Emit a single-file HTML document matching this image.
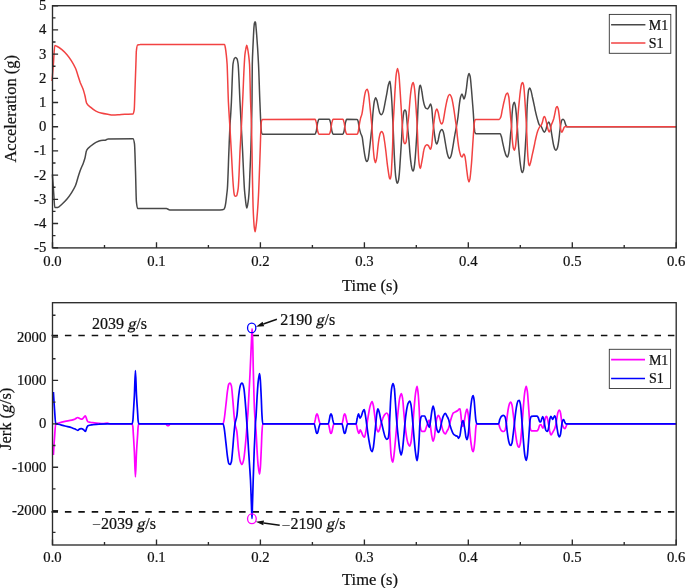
<!DOCTYPE html>
<html><head><meta charset="utf-8"><title>Acceleration and Jerk</title>
<style>html,body{margin:0;padding:0;background:#fff}svg{display:block}text{font-family:"Liberation Serif","Times New Roman",serif;fill:#111;stroke:#111;stroke-width:0.22px}.i{font-style:italic}</style></head><body>
<svg width="685" height="588" viewBox="0 0 685 588">
<rect width="685" height="588" fill="#fff"/>
<g>
<path d="M52.4,174.4C52.8,180.8 53.3,187.0 53.7,193.0C54.1,198.0 54.4,207.6 54.8,207.6C55.8,207.6 56.7,207.5 57.7,207.4C59.1,207.2 60.5,205.4 61.9,204.2C63.6,202.7 65.3,201.0 67.0,199.0C68.4,197.3 69.9,195.3 71.3,193.1C72.7,190.9 74.1,188.8 75.5,185.5C76.4,183.4 77.2,179.8 78.1,177.0C78.8,174.7 79.6,172.2 80.3,170.2C81.3,167.6 82.2,166.0 83.2,163.4C83.8,161.9 84.3,160.4 84.9,158.3C85.5,156.2 86.0,151.3 86.6,150.3C88.0,147.7 89.4,147.2 90.8,146.0C92.5,144.6 94.2,143.3 95.9,142.4C97.6,141.5 99.3,140.5 101.0,140.4C102.4,140.3 103.9,140.3 105.3,140.2C106.1,140.1 107.0,138.9 107.8,138.9C116.2,138.7 124.6,138.7 133.0,138.7C133.5,138.7 134.0,140.6 134.5,143.8C134.8,145.9 135.2,160.9 135.5,171.0C135.8,180.1 136.1,198.6 136.4,201.6C136.8,205.6 137.2,208.4 137.6,208.4C141.7,208.5 145.9,208.5 150.0,208.5C155.5,208.5 160.9,208.5 166.4,208.6C167.5,208.6 168.7,209.9 169.8,209.9L218.2,209.9C219.6,209.9 221.1,209.8 222.5,209.7C223.0,209.7 223.5,209.5 224.0,209.2C224.3,209.0 224.6,208.2 224.9,207.3C225.2,206.4 225.5,204.5 225.8,202.6C226.1,200.7 226.4,197.7 226.7,195.0C226.9,192.9 227.2,191.5 227.4,188.5C227.9,182.1 228.4,163.3 228.9,151.0C229.2,142.8 229.6,132.9 229.9,126.7C230.2,121.1 230.5,118.0 230.8,113.0C231.0,109.7 231.2,106.1 231.4,102.0C231.9,91.2 232.5,67.8 233.0,64.0C233.4,61.2 233.8,59.4 234.2,58.8C234.7,58.1 235.1,57.6 235.6,57.6C236.1,57.6 236.5,58.1 237.0,58.8C237.4,59.3 237.7,61.3 238.1,64.0C238.7,68.6 239.4,89.7 240.0,102.0C240.4,110.4 240.9,118.5 241.3,126.7C241.7,134.9 242.2,142.2 242.6,151.0C243.0,158.5 243.3,168.2 243.7,175.5C244.0,180.8 244.2,186.5 244.5,190.0C244.8,193.9 245.1,196.2 245.4,199.0C245.6,201.1 245.9,203.7 246.1,205.0C246.3,206.4 246.6,208.0 246.8,208.0C247.1,208.0 247.3,206.2 247.6,205.0C247.9,203.5 248.2,201.7 248.5,199.0C248.7,196.9 249.0,193.9 249.2,190.0C249.4,186.6 249.6,180.4 249.8,175.5C250.1,167.4 250.5,160.7 250.8,151.0C251.0,144.2 251.3,136.3 251.5,126.7C251.7,119.8 251.8,113.6 252.0,102.0C252.1,93.9 252.2,69.6 252.3,64.0C252.5,55.2 252.7,52.5 252.9,48.0C253.1,43.1 253.3,39.1 253.5,35.3C253.7,32.2 253.8,28.6 254.0,26.8C254.2,25.0 254.3,23.3 254.5,22.8C254.7,22.2 254.9,21.7 255.1,21.7C255.2,21.7 255.4,22.2 255.6,22.8C255.7,23.3 255.9,25.4 256.0,26.8C256.2,29.3 256.5,32.3 256.7,35.3C257.0,39.2 257.3,43.3 257.6,48.0C257.9,52.7 258.2,57.7 258.5,64.0C259.0,73.9 259.4,90.6 259.9,102.0C260.3,111.0 260.6,121.3 261.0,126.7C261.2,129.2 261.3,131.9 261.5,132.5C261.8,133.5 262.0,134.2 262.3,134.2L315.1,134.2C315.5,134.2 315.8,132.8 316.2,131.5C316.5,130.5 316.7,128.3 317.0,126.7C317.3,125.1 317.5,122.9 317.8,122.0C318.2,120.7 318.5,119.3 318.9,119.3L329.3,119.3C329.7,119.3 330.0,120.7 330.4,122.0C330.7,122.9 330.9,125.1 331.2,126.7C331.5,128.3 331.7,130.6 332.0,131.5C332.4,132.8 332.7,134.2 333.1,134.2L342.9,134.2C343.3,134.2 343.6,132.8 344.0,131.5C344.3,130.6 344.5,128.3 344.8,126.7C345.1,125.1 345.3,122.9 345.6,122.0C346.0,120.7 346.3,119.3 346.7,119.3C350.2,119.3 353.8,119.3 357.3,119.4C357.6,119.4 358.0,120.7 358.3,122.0C358.5,122.9 358.8,125.5 359.0,126.7C359.5,129.5 360.1,131.5 360.6,133.1C361.1,134.7 361.7,135.1 362.2,137.1C362.6,138.5 362.9,142.4 363.3,145.0C363.7,148.1 364.2,151.8 364.6,154.2C365.0,156.6 365.5,159.2 365.9,160.1C366.2,160.8 366.6,161.5 366.9,161.5C367.3,161.5 367.7,160.5 368.1,159.4C368.5,158.2 369.0,153.6 369.4,150.2C369.8,146.8 370.3,142.5 370.7,138.4C371.1,134.6 371.5,131.1 371.9,126.7C372.3,122.3 372.7,115.5 373.1,111.5C373.5,107.2 374.0,102.7 374.4,101.0C374.8,99.3 375.3,97.7 375.7,97.7C376.2,97.7 376.6,99.5 377.1,101.0C377.5,102.4 378.0,105.7 378.4,107.6C378.8,109.5 379.3,112.0 379.7,112.8C380.2,113.8 380.8,114.8 381.3,114.8C381.9,114.8 382.4,113.5 383.0,112.2C383.6,110.8 384.3,106.7 384.9,103.6C385.6,100.4 386.2,96.7 386.9,93.1C387.5,90.1 388.0,85.5 388.6,83.9C389.0,82.7 389.5,81.3 389.9,81.3C390.2,81.3 390.5,85.1 390.8,87.9C391.1,91.0 391.5,95.7 391.8,101.0C392.1,105.2 392.3,111.5 392.6,116.8C392.8,120.1 392.9,123.1 393.1,126.7C393.4,132.5 393.6,140.3 393.9,146.3C394.2,153.0 394.5,159.9 394.8,164.7C395.1,169.5 395.4,174.2 395.7,176.5C396.1,179.3 396.4,181.7 396.8,182.4C397.0,182.9 397.3,183.3 397.5,183.3C397.8,183.3 398.2,181.9 398.5,180.4C398.8,179.1 399.1,175.9 399.4,172.6C399.7,169.3 400.0,163.9 400.3,159.4C400.7,153.9 401.0,148.3 401.4,142.3C401.7,137.4 402.0,130.8 402.3,126.7C402.6,122.1 403.0,117.9 403.3,115.4C403.6,113.4 403.8,111.3 404.1,110.8C404.4,110.3 404.7,109.9 405.0,109.9C405.3,109.9 405.7,110.5 406.0,111.5C406.2,112.2 406.5,115.8 406.7,118.1C407.0,120.8 407.2,124.0 407.5,126.7C408.0,131.4 408.4,134.6 408.9,139.7C409.2,143.4 409.6,149.3 409.9,152.9C410.3,157.6 410.8,162.0 411.2,164.7C411.6,167.0 411.9,169.2 412.3,169.9C412.6,170.5 412.9,171.0 413.2,171.0C413.5,171.0 413.9,169.1 414.2,167.3C414.5,165.5 414.9,161.8 415.2,158.1C415.5,154.4 415.9,148.9 416.2,143.7C416.5,138.5 416.9,133.4 417.2,126.7C417.5,121.4 417.7,113.1 418.0,107.6C418.3,102.1 418.5,95.9 418.8,93.1C419.1,89.6 419.5,86.5 419.8,85.9C420.0,85.5 420.2,85.2 420.4,85.2C420.8,85.2 421.3,88.3 421.7,90.5C422.2,92.8 422.6,97.3 423.1,99.7C423.6,102.1 424.0,104.3 424.5,105.6C424.9,106.8 425.4,107.9 425.8,108.2C426.4,108.6 426.9,108.9 427.5,108.9C428.0,108.9 428.6,107.7 429.1,106.9C429.6,106.1 430.1,103.9 430.6,103.9C431.0,103.9 431.3,105.6 431.7,107.6C432.0,109.2 432.3,114.9 432.6,118.1C432.9,121.3 433.2,124.1 433.5,126.7C433.9,130.1 434.3,133.1 434.7,135.8C435.1,138.2 435.4,141.4 435.8,142.3C436.2,143.2 436.5,144.0 436.9,144.0C437.4,144.0 437.8,141.5 438.3,139.7C438.7,138.0 439.2,134.4 439.6,133.1C440.0,131.8 440.5,130.7 440.9,130.2C441.2,129.9 441.6,129.5 441.9,129.5C442.3,129.5 442.7,130.3 443.1,131.2C443.5,132.1 444.0,134.8 444.4,137.1C444.8,139.4 445.3,142.6 445.7,145.0C446.3,148.3 446.9,152.1 447.5,154.2C447.9,155.7 448.4,157.3 448.8,157.8C449.1,158.2 449.4,158.5 449.7,158.5C450.1,158.5 450.6,157.2 451.0,156.1C451.4,155.0 451.9,152.5 452.3,150.2C452.7,147.9 453.2,144.9 453.6,142.3C454.0,139.7 454.5,136.9 454.9,134.5C455.4,131.7 455.9,129.5 456.4,126.7C456.9,123.7 457.5,120.8 458.0,116.8C458.4,113.6 458.9,108.1 459.3,104.9C459.7,101.7 460.2,98.4 460.6,97.0C461.0,95.6 461.5,94.0 461.9,94.0C462.3,94.0 462.6,95.5 463.0,96.4C463.3,97.1 463.6,99.0 463.9,99.0C464.3,99.0 464.8,97.2 465.2,95.7C465.6,94.2 466.1,90.9 466.5,87.9C466.9,84.9 467.4,79.2 467.8,77.3C468.2,75.4 468.7,73.4 469.1,73.4C469.5,73.4 469.8,75.0 470.2,76.7C470.5,78.2 470.9,82.9 471.2,86.5C471.6,90.4 471.9,95.1 472.3,99.7C472.6,103.9 473.0,108.1 473.3,112.8C473.6,117.1 473.9,123.4 474.2,126.7C474.4,128.9 474.6,131.4 474.8,132.0C475.2,133.1 475.5,133.8 475.9,133.8L500.2,133.8C500.6,133.8 501.1,135.7 501.5,137.1C502.0,138.6 502.4,141.6 502.9,143.7C503.4,146.0 503.9,148.4 504.4,150.2C505.0,152.3 505.5,154.6 506.1,155.5C506.6,156.3 507.0,157.1 507.5,157.1C507.9,157.1 508.4,155.0 508.8,152.9C509.1,151.3 509.5,147.2 509.8,143.7C510.1,140.6 510.4,135.9 510.7,133.1C511.0,130.6 511.2,130.0 511.5,126.7C511.7,124.7 511.8,117.8 512.0,115.4C512.4,110.2 512.7,106.2 513.1,104.9C513.5,103.5 513.9,102.3 514.3,102.3C514.6,102.3 515.0,104.0 515.3,105.6C515.6,107.2 516.0,110.7 516.3,114.1C516.6,117.5 517.0,121.9 517.3,126.7C517.6,130.5 517.8,136.0 518.1,139.7C518.5,145.3 518.9,150.0 519.3,154.2C519.7,158.7 520.2,163.2 520.6,166.0C520.9,168.2 521.3,170.3 521.6,171.2C521.9,171.9 522.1,172.6 522.4,172.6C522.8,172.6 523.1,171.4 523.5,169.9C523.8,168.6 524.2,163.6 524.5,159.4C524.8,155.2 525.2,149.1 525.5,143.7C525.8,138.3 526.2,134.5 526.5,126.7C526.7,122.8 526.8,114.0 527.0,110.2C527.3,104.2 527.5,99.9 527.8,97.0C528.1,93.7 528.4,90.6 528.7,89.8C529.1,88.8 529.4,88.1 529.8,88.1C530.2,88.1 530.7,89.8 531.1,91.1C531.5,92.4 532.0,95.0 532.4,97.0C533.1,100.0 533.7,102.9 534.4,106.2C534.7,107.5 534.9,109.1 535.2,110.3C536.1,114.2 536.9,117.7 537.8,120.5C538.3,122.1 538.8,124.1 539.3,124.8C540.0,125.7 540.6,125.7 541.3,126.6C541.8,127.3 542.4,129.3 542.9,130.2C543.4,131.0 543.9,132.2 544.4,132.2C544.9,132.2 545.4,130.9 545.9,129.7C546.4,128.5 546.9,125.2 547.4,124.1C547.9,123.1 548.3,122.0 548.8,122.0C549.2,122.0 549.6,123.4 550.0,124.6C550.3,125.6 550.7,127.8 551.0,129.7C551.4,132.1 551.9,135.4 552.3,137.9C552.8,140.8 553.3,144.2 553.8,146.0C554.2,147.6 554.7,149.1 555.1,149.6C555.4,150.0 555.8,150.3 556.1,150.3C556.5,150.3 557.0,149.2 557.4,148.1C557.8,147.0 558.3,143.8 558.7,140.9C559.1,138.2 559.5,133.8 559.9,130.7C560.2,128.1 560.6,125.2 560.9,123.6C561.2,122.0 561.6,120.4 561.9,120.0C562.3,119.6 562.6,119.2 563.0,119.2C563.4,119.2 563.9,119.8 564.3,120.5C564.6,121.0 565.0,122.7 565.3,123.6C565.6,124.5 566.0,125.8 566.3,126.1C566.7,126.5 567.1,126.8 567.5,126.8L676.2,126.8" fill="none" stroke="#484848" stroke-width="1.5" stroke-linejoin="round"/>
<path d="M52.0,81.0C52.5,75.6 52.9,69.9 53.4,64.0C53.9,58.1 54.3,45.6 54.8,45.6C55.5,45.6 56.1,45.9 56.8,46.2C58.5,46.9 60.2,48.2 61.9,49.6C63.6,51.0 65.3,52.7 67.0,54.7C68.4,56.4 69.9,58.3 71.3,60.6C72.7,62.8 74.1,65.1 75.5,68.3C76.4,70.3 77.2,73.3 78.1,75.9C78.8,78.1 79.6,80.7 80.3,82.7C81.3,85.3 82.2,86.7 83.2,89.5C83.8,91.1 84.3,93.3 84.9,95.5C85.5,97.7 86.0,102.1 86.6,103.1C88.0,105.7 89.4,106.2 90.8,107.4C92.5,108.9 94.2,110.3 95.9,111.1C97.6,111.9 99.3,112.6 101.0,113.0C103.3,113.6 105.5,113.9 107.8,114.2C109.5,114.5 111.2,114.9 112.9,114.9C114.6,114.9 116.3,114.8 118.0,114.7C120.3,114.6 122.5,114.3 124.8,114.2C127.5,114.1 130.3,114.2 133.0,114.0C133.4,114.0 133.8,112.4 134.2,109.9C134.5,108.2 134.7,96.7 135.0,89.5C135.3,81.5 135.6,72.3 135.9,64.0C136.1,59.4 136.2,51.8 136.4,50.4C136.8,47.0 137.2,45.1 137.6,45.0C138.4,44.7 139.3,44.6 140.1,44.6C143.4,44.5 146.7,44.4 150.0,44.4L224.6,44.4C224.9,44.4 225.1,46.5 225.4,48.0C225.7,49.7 226.0,52.1 226.3,54.9C226.6,57.4 226.8,59.8 227.1,64.0C227.5,70.9 228.0,92.8 228.4,102.0C228.9,112.6 229.4,118.2 229.9,126.7C230.4,134.6 230.8,142.6 231.3,151.0C231.7,158.8 232.2,168.5 232.6,175.5C232.9,180.3 233.2,185.0 233.5,188.3C233.7,190.2 233.8,192.0 234.0,193.0C234.2,194.2 234.4,195.5 234.6,195.7C234.9,196.0 235.3,196.2 235.6,196.2C236.0,196.2 236.3,196.0 236.7,195.7C236.9,195.5 237.2,194.1 237.4,193.0C237.7,191.8 237.9,190.6 238.2,188.3C238.5,186.0 238.7,180.6 239.0,175.5C239.3,169.1 239.7,157.8 240.0,151.0C240.5,141.4 240.9,135.5 241.4,126.7C241.8,119.2 242.2,110.6 242.6,102.0C243.2,89.9 243.7,73.9 244.3,64.0C244.5,60.5 244.7,56.8 244.9,54.9C245.2,52.4 245.4,51.1 245.7,49.7C246.0,47.9 246.4,45.3 246.7,45.3C247.1,45.3 247.4,47.9 247.8,49.7C248.1,51.0 248.3,52.8 248.6,54.9C248.9,57.3 249.2,59.4 249.5,64.0C249.9,69.6 250.2,90.8 250.6,102.0C250.9,111.1 251.2,116.1 251.5,126.7C251.7,132.6 251.8,141.0 252.0,150.0C252.1,157.2 252.3,168.1 252.4,175.5C252.5,182.9 252.7,189.2 252.8,195.0C252.9,199.4 253.0,204.1 253.1,207.0C253.3,212.8 253.5,216.5 253.7,219.8C253.9,222.6 254.0,225.2 254.2,226.6C254.5,229.0 254.8,231.7 255.1,231.7C255.4,231.7 255.7,228.7 256.0,226.6C256.3,224.8 256.5,222.5 256.8,219.8C257.1,216.4 257.5,211.9 257.8,207.0C258.0,203.6 258.3,199.7 258.5,195.0C258.8,189.7 259.0,182.5 259.3,175.5C259.6,167.6 259.9,158.6 260.2,150.0C260.5,142.3 260.7,130.9 261.0,126.7C261.2,124.1 261.3,121.6 261.5,121.0C261.8,120.0 262.0,119.4 262.3,119.4C279.9,119.3 297.5,119.3 315.1,119.3C315.5,119.3 315.8,120.7 316.2,122.0C316.5,122.9 316.7,125.1 317.0,126.7C317.3,128.3 317.5,130.5 317.8,131.5C318.2,132.8 318.5,134.2 318.9,134.2L329.3,134.2C329.7,134.2 330.0,132.8 330.4,131.5C330.7,130.5 330.9,128.3 331.2,126.7C331.5,125.1 331.7,122.9 332.0,122.0C332.4,120.7 332.7,119.3 333.1,119.3L342.9,119.3C343.3,119.3 343.6,120.7 344.0,122.0C344.3,122.9 344.5,125.1 344.8,126.7C345.1,128.3 345.3,130.5 345.6,131.5C346.0,132.8 346.3,134.2 346.7,134.2L357.3,134.2C357.6,134.2 358.0,132.8 358.3,131.5C358.5,130.6 358.8,128.1 359.0,126.7C359.5,123.4 360.1,120.2 360.6,118.1C361.0,116.4 361.5,115.9 361.9,114.1C362.4,112.2 362.8,108.1 363.3,104.9C363.7,101.9 364.2,97.9 364.6,95.7C365.0,93.5 365.5,91.2 365.9,90.5C366.3,89.8 366.8,89.2 367.2,89.2C367.6,89.2 368.1,91.1 368.5,93.1C368.9,95.1 369.4,100.7 369.8,104.9C370.2,109.1 370.7,113.6 371.1,118.1C371.4,120.9 371.6,123.2 371.9,126.7C372.2,130.2 372.4,135.6 372.7,139.7C373.0,143.8 373.2,148.6 373.5,151.5C373.8,154.8 374.1,158.0 374.4,159.4C374.8,161.1 375.1,162.7 375.5,162.7C375.9,162.7 376.3,160.2 376.7,158.1C377.1,155.8 377.6,149.7 378.0,146.3C378.4,142.9 378.9,139.1 379.3,137.1C379.7,135.1 380.2,133.0 380.6,132.5C381.0,132.0 381.5,131.6 381.9,131.6C382.3,131.6 382.8,132.7 383.2,133.8C383.6,134.9 384.1,138.2 384.5,141.0C385.0,144.0 385.4,147.6 385.9,151.5C386.3,155.1 386.8,159.9 387.2,163.4C387.6,166.9 388.1,169.9 388.5,172.6C388.8,174.5 389.1,177.0 389.4,177.8C389.7,178.5 389.9,179.1 390.2,179.1C390.5,179.1 390.8,177.3 391.1,175.2C391.4,173.3 391.6,167.1 391.9,162.0C392.1,157.5 392.4,153.1 392.6,146.3C392.8,141.5 392.9,131.2 393.1,126.7C393.4,117.8 393.8,113.8 394.1,107.6C394.5,100.8 394.8,93.5 395.2,87.9C395.5,82.8 395.9,77.1 396.2,74.7C396.6,71.6 397.1,68.4 397.5,68.4C398.0,68.4 398.4,71.5 398.9,74.7C399.2,77.0 399.6,83.2 399.9,87.9C400.3,93.1 400.6,99.2 401.0,104.9C401.3,110.1 401.7,115.6 402.0,120.7C402.1,122.7 402.3,124.8 402.4,126.7C402.7,130.9 403.0,136.2 403.3,138.4C403.6,140.6 403.9,142.6 404.2,143.0C404.5,143.4 404.7,143.7 405.0,143.7C405.3,143.7 405.7,143.1 406.0,142.3C406.3,141.6 406.6,138.6 406.9,135.8C407.1,133.6 407.4,129.3 407.6,126.7C408.0,121.8 408.5,119.0 408.9,114.1C409.2,110.4 409.6,104.6 409.9,101.0C410.3,96.3 410.8,91.9 411.2,89.2C411.6,86.9 411.9,84.7 412.3,83.9C412.6,83.2 412.9,82.6 413.2,82.6C413.5,82.6 413.9,84.7 414.2,86.5C414.5,88.3 414.9,91.9 415.2,95.7C415.5,99.5 415.9,105.1 416.2,110.2C416.5,115.3 416.9,120.1 417.2,126.7C417.5,132.0 417.7,140.8 418.0,146.3C418.3,151.8 418.5,158.1 418.8,160.7C419.1,164.0 419.5,166.4 419.8,167.3C420.0,167.8 420.2,168.4 420.4,168.4C420.8,168.4 421.1,165.2 421.5,163.4C421.9,161.4 422.3,159.1 422.7,156.8C423.1,154.7 423.4,151.7 423.8,150.2C424.2,148.5 424.7,146.9 425.1,146.3C425.7,145.5 426.2,144.7 426.8,144.7C427.3,144.7 427.9,145.1 428.4,145.6C428.8,146.0 429.3,147.7 429.7,148.3C430.0,148.7 430.3,149.2 430.6,149.2C431.0,149.2 431.3,147.1 431.7,145.0C432.0,143.3 432.3,138.8 432.6,135.8C432.9,132.8 433.2,129.4 433.5,126.7C433.9,123.0 434.3,119.4 434.7,116.8C435.1,114.4 435.4,111.8 435.8,110.8C436.2,109.8 436.5,108.9 436.9,108.9C437.4,108.9 437.8,111.1 438.3,112.8C438.7,114.4 439.2,117.8 439.6,119.4C440.0,121.0 440.5,122.8 440.9,123.3C441.2,123.7 441.5,124.0 441.8,124.0C442.2,124.0 442.5,123.0 442.9,122.0C443.3,120.9 443.8,117.8 444.2,115.4C444.6,113.0 445.1,109.9 445.5,107.6C446.2,104.1 446.8,100.5 447.5,98.4C447.9,97.0 448.4,95.6 448.8,95.1C449.1,94.7 449.5,94.4 449.8,94.4C450.3,94.4 450.9,95.7 451.4,97.0C451.8,98.0 452.3,100.2 452.7,102.3C453.1,104.4 453.6,107.4 454.0,110.2C454.4,113.0 454.9,116.4 455.3,119.4C455.7,121.9 456.0,123.7 456.4,126.7C456.7,129.1 457.0,133.1 457.3,135.8C457.7,139.7 458.2,143.6 458.6,146.3C459.0,149.0 459.5,151.3 459.9,152.9C460.3,154.5 460.8,156.1 461.2,156.5C461.5,156.8 461.9,157.1 462.2,157.1C462.5,157.1 462.9,155.3 463.2,154.8C463.5,154.4 463.7,153.9 464.0,153.9C464.3,153.9 464.6,155.0 464.9,156.1C465.2,157.2 465.5,159.8 465.8,162.0C466.2,164.7 466.5,168.3 466.9,171.2C467.2,173.8 467.6,177.0 467.9,178.5C468.3,180.1 468.6,182.0 469.0,182.0C469.3,182.0 469.6,180.5 469.9,179.1C470.2,177.7 470.5,174.2 470.8,171.2C471.1,167.9 471.5,163.9 471.8,159.4C472.1,154.9 472.5,148.8 472.8,143.7C473.1,139.2 473.4,134.6 473.7,130.5C473.9,128.2 474.0,125.4 474.2,124.0C474.4,122.4 474.6,121.0 474.8,120.5C475.1,119.9 475.3,119.4 475.6,119.4L499.2,119.4C499.8,119.4 500.3,118.2 500.9,116.8C501.3,115.8 501.8,112.3 502.2,110.2C502.9,107.0 503.5,103.6 504.2,101.0C504.8,98.5 505.5,95.3 506.1,94.4C506.6,93.7 507.0,93.1 507.5,93.1C507.9,93.1 508.4,94.9 508.8,97.0C509.1,98.6 509.5,103.9 509.8,107.6C510.1,110.9 510.4,114.7 510.7,118.1C511.0,121.1 511.2,123.2 511.5,126.7C511.8,130.2 512.0,136.8 512.3,139.7C512.7,143.6 513.0,147.2 513.4,148.3C513.7,149.3 514.1,150.2 514.4,150.2C514.8,150.2 515.1,148.3 515.5,146.3C515.8,144.7 516.1,140.4 516.4,137.1C516.7,133.8 517.0,130.7 517.3,126.7C517.6,123.1 517.8,117.6 518.1,114.1C518.5,108.9 518.9,105.0 519.3,101.0C519.7,96.7 520.2,92.1 520.6,89.2C520.9,87.0 521.3,84.6 521.6,83.9C521.9,83.2 522.3,82.6 522.6,82.6C522.9,82.6 523.3,83.8 523.6,85.2C523.9,86.5 524.2,90.7 524.5,94.4C524.8,98.5 525.2,104.8 525.5,110.2C525.8,115.6 526.2,120.1 526.5,126.7C526.7,131.3 527.0,138.8 527.2,143.7C527.4,148.6 527.7,153.9 527.9,156.8C528.2,160.1 528.4,163.1 528.7,164.0C529.0,164.9 529.2,165.7 529.5,165.7C529.9,165.7 530.3,163.5 530.7,162.0C531.3,159.9 531.8,156.8 532.4,154.2C533.1,151.1 533.7,148.3 534.4,145.0C534.7,143.7 534.9,142.1 535.2,140.9C536.1,137.0 536.9,133.0 537.8,130.7C538.5,128.9 539.1,127.5 539.8,126.6C540.3,125.9 540.8,125.8 541.3,125.1C541.7,124.5 542.2,122.9 542.6,121.5C542.9,120.4 543.3,117.8 543.6,117.4C543.9,117.0 544.3,116.6 544.6,116.6C544.9,116.6 545.3,118.0 545.6,119.0C546.0,120.3 546.5,122.8 546.9,124.6C547.4,126.5 547.8,129.1 548.3,130.2C548.6,131.0 549.0,131.9 549.3,131.9C549.6,131.9 550.0,130.7 550.3,129.7C550.6,128.7 551.0,126.2 551.3,125.1C551.7,123.7 552.2,123.1 552.6,122.0C553.0,120.9 553.4,119.9 553.8,118.5C554.2,116.9 554.7,114.3 555.1,112.3C555.4,110.8 555.8,108.5 556.1,107.8C556.4,107.1 556.8,106.4 557.1,106.4C557.5,106.4 557.8,107.6 558.2,108.8C558.5,109.9 558.9,112.8 559.2,115.4C559.5,118.0 559.9,121.8 560.2,124.6C560.5,126.8 560.7,130.0 561.0,130.7C561.3,131.5 561.6,132.2 561.9,132.2C562.3,132.2 562.6,131.0 563.0,130.2C563.4,129.3 563.9,127.4 564.3,127.1C564.8,126.8 565.3,126.6 565.8,126.6C566.4,126.6 566.9,126.8 567.5,126.8L676.2,126.8" fill="none" stroke="#f24242" stroke-width="1.5" stroke-linejoin="round"/>
<rect x="52.5" y="5.7" width="623.7" height="242.2" fill="none" stroke="#2b2b2b" stroke-width="1.35"/>
<path d="M52.5,247.9v-5.6M156.5,247.9v-5.6M260.4,247.9v-5.6M364.4,247.9v-5.6M468.3,247.9v-5.6M572.3,247.9v-5.6M676.2,247.9v-5.6M104.5,247.9v-3M208.4,247.9v-3M312.4,247.9v-3M416.3,247.9v-3M520.3,247.9v-3M624.2,247.9v-3M52.5,247.7h5.6M52.5,223.5h5.6M52.5,199.3h5.6M52.5,175.1h5.6M52.5,150.9h5.6M52.5,126.7h5.6M52.5,102.5h5.6M52.5,78.3h5.6M52.5,54.1h5.6M52.5,29.9h5.6M52.5,5.7h5.6M52.5,235.6h3M52.5,211.4h3M52.5,187.2h3M52.5,163.0h3M52.5,138.8h3M52.5,114.6h3M52.5,90.4h3M52.5,66.2h3M52.5,42.0h3M52.5,17.8h3" fill="none" stroke="#2b2b2b" stroke-width="1.35"/>
<text x="52.5" y="265.5" font-size="14.7" text-anchor="middle">0.0</text>
<text x="156.5" y="265.5" font-size="14.7" text-anchor="middle">0.1</text>
<text x="260.4" y="265.5" font-size="14.7" text-anchor="middle">0.2</text>
<text x="364.4" y="265.5" font-size="14.7" text-anchor="middle">0.3</text>
<text x="468.3" y="265.5" font-size="14.7" text-anchor="middle">0.4</text>
<text x="572.3" y="265.5" font-size="14.7" text-anchor="middle">0.5</text>
<text x="676.2" y="265.5" font-size="14.7" text-anchor="middle">0.6</text>
<text x="46.3" y="252.2" font-size="14.7" text-anchor="end">-5</text>
<text x="46.3" y="228.0" font-size="14.7" text-anchor="end">-4</text>
<text x="46.3" y="203.8" font-size="14.7" text-anchor="end">-3</text>
<text x="46.3" y="179.6" font-size="14.7" text-anchor="end">-2</text>
<text x="46.3" y="155.4" font-size="14.7" text-anchor="end">-1</text>
<text x="46.3" y="131.2" font-size="14.7" text-anchor="end">0</text>
<text x="46.3" y="107.0" font-size="14.7" text-anchor="end">1</text>
<text x="46.3" y="82.8" font-size="14.7" text-anchor="end">2</text>
<text x="46.3" y="58.6" font-size="14.7" text-anchor="end">3</text>
<text x="46.3" y="34.4" font-size="14.7" text-anchor="end">4</text>
<text x="46.3" y="10.2" font-size="14.7" text-anchor="end">5</text>
<text transform="translate(16,162.6) rotate(-90)" font-size="16.5">Acceleration (g)</text>
<text x="342.1" y="291.4" font-size="16.5">Time (s)</text>
<rect x="609.3" y="14.4" width="61.5" height="38.9" fill="#fff" stroke="#333" stroke-width="0.9"/>
<path d="M611.1,24.8H645.4" stroke="#484848" stroke-width="1.5"/>
<path d="M611.1,43.1H645.4" stroke="#f24242" stroke-width="1.5"/>
<text x="648.7" y="29.6" font-size="14">M1</text>
<text x="648.7" y="47.9" font-size="14">S1</text>
</g>
<g>
<path d="M51.5,335.5H676.2" stroke="#111" stroke-width="1.7" stroke-dasharray="6.5 6.9" fill="none"/>
<path d="M51.5,511.8H676.2" stroke="#111" stroke-width="1.7" stroke-dasharray="6.5 6.9" fill="none"/>
<path d="M53.4,455.0C53.8,448.7 54.1,442.9 54.5,438.0C54.9,432.7 55.3,424.3 55.7,424.0C56.5,423.4 57.4,423.4 58.2,423.2C60.5,422.5 62.7,421.9 65.0,421.4C67.3,420.9 69.5,420.7 71.8,420.1C72.9,419.8 74.1,419.4 75.2,418.9C76.1,418.5 76.9,417.5 77.8,417.5C78.4,417.5 78.9,418.2 79.5,418.4C80.3,418.7 81.2,419.2 82.0,419.2C82.7,419.2 83.3,417.9 84.0,417.2C84.5,416.7 84.9,415.8 85.4,415.8C85.9,415.8 86.3,418.6 86.8,419.6C87.2,420.5 87.6,421.6 88.0,421.8C89.4,422.4 90.8,422.4 92.2,422.6C94.5,422.9 96.7,423.2 99.0,423.3C100.3,423.4 101.7,423.5 103.0,423.5C104.5,423.5 106.0,423.1 107.5,423.1C108.3,423.1 109.2,423.8 110.0,423.8L132.1,423.8C132.4,423.8 132.6,425.2 132.9,427.1C133.0,428.0 133.2,431.4 133.3,433.6C133.7,439.7 134.0,444.8 134.4,452.2C134.7,458.9 135.1,476.8 135.4,476.8C135.8,476.8 136.1,458.9 136.5,452.2C136.9,444.9 137.3,440.0 137.7,433.6C137.8,431.5 138.0,428.1 138.1,427.1C138.3,425.3 138.6,423.8 138.8,423.8L165.8,423.8C166.2,423.8 166.6,425.0 167.0,425.2C167.3,425.4 167.7,425.6 168.0,425.6C168.3,425.6 168.7,425.4 169.0,425.2C169.4,425.0 169.8,423.8 170.2,423.8L219.5,423.8L223.1,423.8C223.4,423.8 223.8,421.6 224.1,419.9C224.7,416.8 225.3,410.1 225.9,405.0C226.5,400.2 227.0,393.7 227.6,390.1C228.0,387.6 228.4,384.6 228.8,384.1C229.2,383.5 229.7,383.1 230.1,383.1C230.5,383.1 231.0,384.4 231.4,385.9C231.8,387.4 232.3,393.9 232.7,398.6C233.2,403.6 233.6,410.8 234.1,415.6C234.4,418.7 234.7,422.0 235.0,423.8C235.6,427.7 236.3,428.0 236.9,432.0C237.4,435.2 237.9,444.7 238.4,449.0C239.0,453.9 239.5,458.9 240.1,460.7C240.7,462.7 241.4,464.5 242.0,464.5C242.6,464.5 243.1,462.1 243.7,459.6C244.1,457.7 244.6,453.1 245.0,449.0C245.5,444.3 246.0,438.3 246.5,432.0C246.7,429.5 246.9,426.5 247.1,423.8C247.4,419.2 247.8,415.3 248.1,410.1C248.7,400.2 249.4,387.1 250.0,374.0C250.5,363.0 251.1,348.6 251.6,338.0C251.8,334.7 251.9,328.8 252.1,328.8C252.3,328.8 252.4,333.8 252.6,338.0C252.9,344.7 253.1,363.8 253.4,374.0C253.8,388.0 254.1,402.6 254.5,410.1C254.8,416.3 255.1,419.8 255.4,423.8C255.6,426.9 255.9,428.7 256.1,432.0C256.4,436.8 256.8,445.8 257.1,451.1C257.5,456.9 257.8,462.8 258.2,466.0C258.6,469.7 259.1,474.1 259.5,474.1C259.8,474.1 260.0,470.9 260.3,468.1C260.6,464.9 260.9,457.4 261.2,451.1C261.5,445.5 261.7,436.2 262.0,432.0C262.2,428.4 262.5,423.8 262.7,423.8L314.2,423.8C314.6,423.8 314.9,421.1 315.3,419.5C315.6,418.1 316.0,415.5 316.3,414.8C316.5,414.3 316.8,413.8 317.0,413.8C317.2,413.8 317.5,414.3 317.7,414.8C318.1,415.6 318.4,418.2 318.8,419.5C319.3,421.2 319.7,423.8 320.2,423.8L328.3,423.8C328.7,423.8 329.0,426.4 329.4,428.0C329.7,429.3 330.0,431.8 330.3,432.5C330.5,433.0 330.8,433.5 331.0,433.5C331.2,433.5 331.5,433.0 331.7,432.5C332.0,431.8 332.4,429.3 332.7,428.0C333.1,426.4 333.5,423.8 333.9,423.8L342.0,423.8C342.4,423.8 342.7,421.1 343.1,419.5C343.4,418.2 343.7,415.5 344.0,414.8C344.2,414.3 344.5,413.8 344.7,413.8C344.9,413.8 345.2,414.3 345.4,414.8C345.7,415.5 346.1,418.2 346.4,419.5C346.8,421.2 347.3,423.8 347.7,423.8L356.1,423.8C356.5,423.8 356.9,427.7 357.3,429.1C357.8,430.9 358.4,433.5 358.9,433.5C359.3,433.5 359.8,429.9 360.2,429.9C360.7,429.9 361.1,431.5 361.6,432.4C362.1,433.5 362.7,435.4 363.2,436.1C363.6,436.6 364.1,437.2 364.5,437.2C364.9,437.2 365.3,434.4 365.7,432.4C366.1,430.2 366.6,426.6 367.0,423.8C367.5,420.4 368.1,416.8 368.6,413.8C369.1,410.8 369.7,407.3 370.2,405.7C370.8,403.8 371.5,401.7 372.1,401.7C372.5,401.7 373.0,403.8 373.4,405.7C373.8,407.6 374.3,412.1 374.7,415.4C375.1,418.2 375.4,421.6 375.8,423.8C376.2,426.2 376.6,428.9 377.0,429.9C377.4,430.9 377.9,431.9 378.3,431.9C378.7,431.9 379.2,430.3 379.6,429.1C380.1,427.8 380.5,425.4 381.0,423.8C381.6,421.8 382.2,419.7 382.8,418.3C383.4,416.8 384.1,415.3 384.7,414.6C385.4,413.8 386.1,413.0 386.8,413.0C387.3,413.0 387.8,414.0 388.3,415.4C388.6,416.3 389.0,419.8 389.3,423.8C389.6,427.0 389.8,434.8 390.1,439.6C390.4,445.0 390.7,451.4 391.0,454.2C391.3,457.3 391.7,459.6 392.0,460.6C392.3,461.4 392.5,462.2 392.8,462.2C393.2,462.2 393.5,458.5 393.9,455.8C394.3,452.6 394.8,447.5 395.2,442.9C395.6,439.0 395.9,434.6 396.3,430.5C396.5,428.3 396.7,426.0 396.9,423.8C397.4,418.0 398.0,411.9 398.5,407.3C398.9,403.6 399.4,399.3 399.8,397.6C400.3,395.6 400.9,393.6 401.4,393.6C401.8,393.6 402.3,396.4 402.7,399.2C403.1,401.5 403.4,408.1 403.8,412.2C404.2,416.3 404.5,420.5 404.9,423.8C405.4,428.7 406.0,433.3 406.5,436.4C407.0,439.5 407.6,442.5 408.1,443.7C408.6,444.9 409.2,446.1 409.7,446.1C410.1,446.1 410.6,444.0 411.0,442.0C411.4,440.0 411.9,434.1 412.3,429.9C412.5,427.9 412.7,426.0 412.9,423.8C413.3,419.0 413.8,412.3 414.2,407.3C414.6,402.3 415.1,396.5 415.5,393.6C416.0,390.2 416.5,386.3 417.0,386.3C417.4,386.3 417.7,389.7 418.1,392.8C418.4,395.6 418.8,401.6 419.1,407.3C419.4,411.9 419.6,421.4 419.9,423.8C420.3,427.1 420.6,429.1 421.0,430.0C421.3,430.7 421.5,431.3 421.8,431.3L424.7,431.3C425.1,431.3 425.4,429.7 425.8,428.8C426.4,427.4 426.9,425.2 427.5,423.8C428.0,422.4 428.6,420.2 429.1,420.2C429.5,420.2 430.0,423.5 430.4,425.9C430.8,428.3 431.3,433.3 431.7,435.6C432.2,438.0 432.6,441.2 433.1,441.2C433.5,441.2 434.0,439.2 434.4,437.2C434.8,435.5 435.1,430.3 435.5,427.5C435.9,424.1 436.4,420.0 436.8,418.6C437.3,416.9 437.9,415.4 438.4,415.4C439.0,415.4 439.5,417.1 440.1,418.6C440.6,420.0 441.2,423.8 441.7,425.9C442.2,428.0 442.8,430.5 443.3,431.5C443.9,432.7 444.6,434.0 445.2,434.0C445.7,434.0 446.3,432.4 446.8,431.5C447.4,430.5 447.9,429.7 448.5,428.3C448.9,427.3 449.3,425.3 449.7,423.8C450.1,422.2 450.6,420.3 451.0,419.0C451.8,416.5 452.6,413.6 453.4,412.9C454.1,412.3 454.8,412.2 455.5,411.8C456.2,411.5 456.8,411.3 457.5,410.8C458.0,410.5 458.4,409.5 458.9,409.2C459.3,409.0 459.6,408.8 460.0,408.8C460.3,408.8 460.6,412.5 460.9,414.9C461.2,417.5 461.6,423.2 461.9,424.5C462.2,425.5 462.4,426.5 462.7,426.5C463.1,426.5 463.4,425.0 463.8,423.8C464.2,422.6 464.5,419.7 464.9,417.7C465.3,415.7 465.6,412.7 466.0,411.5C466.3,410.4 466.7,409.2 467.0,409.2C467.4,409.2 467.7,411.5 468.1,413.6C468.4,415.5 468.8,419.5 469.1,423.1C469.4,426.3 469.7,431.0 470.0,434.0C470.4,437.7 470.7,440.9 471.1,443.5C471.5,446.1 471.8,449.0 472.2,450.0C472.5,450.9 472.9,451.7 473.2,451.7C473.5,451.7 473.8,449.4 474.1,447.6C474.4,446.0 474.6,443.4 474.9,440.6C475.2,437.1 475.6,429.5 475.9,427.2C476.1,425.6 476.4,423.8 476.6,423.8L498.6,423.8C499.0,423.8 499.4,426.6 499.8,427.5C500.4,428.8 500.9,430.3 501.5,430.7C502.1,431.1 502.8,431.5 503.4,431.5C503.9,431.5 504.5,431.0 505.0,430.3C505.4,429.7 505.9,426.3 506.3,423.5C506.7,421.2 507.0,417.2 507.4,414.6C507.8,411.5 508.3,408.3 508.7,406.5C509.1,404.9 509.5,403.3 509.9,402.8C510.2,402.4 510.5,402.1 510.8,402.1C511.2,402.1 511.6,403.5 512.0,404.9C512.4,406.2 512.7,410.1 513.1,413.0C513.5,416.4 514.0,420.2 514.4,423.8C514.8,427.4 515.3,431.7 515.7,434.8C516.1,437.9 516.6,441.1 517.0,442.9C517.4,444.4 517.7,446.0 518.1,446.4C518.5,446.8 518.8,447.2 519.2,447.2C519.6,447.2 520.0,445.0 520.4,442.9C520.8,440.9 521.1,435.7 521.5,431.5C521.8,427.7 522.2,422.9 522.5,418.6C522.9,413.8 523.2,408.3 523.6,404.1C524.0,399.2 524.5,393.6 524.9,391.2C525.3,388.8 525.8,386.3 526.2,386.3C526.6,386.3 526.9,388.8 527.3,391.2C527.7,393.6 528.0,399.3 528.4,404.1C528.7,408.4 529.1,414.2 529.4,418.6C529.7,422.1 529.9,427.2 530.2,428.3C530.6,429.8 530.9,430.8 531.3,430.8C532.1,430.9 533.0,430.9 533.8,430.9L537.1,430.9C537.5,430.9 538.0,430.0 538.4,429.2C538.8,428.4 539.3,425.4 539.7,425.1C540.1,424.8 540.6,424.6 541.0,424.6C541.4,424.6 541.8,426.5 542.2,427.1C542.5,427.6 542.8,428.2 543.1,428.2C543.3,428.2 543.6,427.0 543.8,426.1C544.1,424.8 544.5,422.0 544.8,420.5C545.1,419.0 545.5,417.2 545.8,416.9C546.1,416.6 546.3,416.4 546.6,416.4C546.9,416.4 547.3,417.8 547.6,419.0C547.9,420.2 548.3,422.7 548.6,424.6C548.9,426.5 549.3,429.1 549.6,430.7C549.9,432.0 550.1,433.2 550.4,433.8C550.7,434.4 550.9,435.0 551.2,435.0C551.6,435.0 552.0,433.5 552.4,432.8C552.8,432.1 553.3,431.5 553.7,430.7C554.1,429.9 554.6,429.0 555.0,427.7C555.3,426.7 555.7,425.4 556.0,423.8C556.3,422.2 556.7,419.3 557.0,417.4C557.4,415.3 557.7,412.6 558.1,411.8C558.5,410.9 559.0,410.1 559.4,410.1C559.7,410.1 560.1,411.2 560.4,412.3C560.7,413.3 561.0,416.6 561.3,418.5C561.6,420.7 562.0,423.5 562.3,424.6C562.8,426.2 563.2,427.2 563.7,427.7C564.1,428.2 564.6,428.7 565.0,428.7C565.4,428.7 565.8,426.9 566.2,426.1C566.5,425.4 566.9,424.3 567.2,424.1C567.5,423.9 567.7,423.8 568.0,423.8L676.2,423.8" fill="none" stroke="#ff00ff" stroke-width="1.7" stroke-linejoin="round"/>
<path d="M53.4,392.0C53.8,398.3 54.1,404.0 54.5,409.0C54.9,414.4 55.3,423.2 55.7,423.5C56.5,424.1 57.4,424.1 58.2,424.3C60.5,424.9 62.7,425.4 65.0,426.0C67.3,426.6 69.5,427.0 71.8,427.7C72.9,428.1 74.1,428.6 75.2,429.1C76.1,429.5 76.9,430.3 77.8,430.3C78.4,430.3 78.9,429.3 79.5,429.1C80.1,428.9 80.6,428.6 81.2,428.6C82.0,428.6 82.9,429.2 83.7,429.8C84.3,430.2 84.8,431.5 85.4,431.5C85.9,431.5 86.3,428.7 86.8,427.7C87.2,426.9 87.6,425.9 88.0,425.7C89.4,425.1 90.8,425.0 92.2,424.8C94.5,424.5 96.7,424.2 99.0,424.1C101.8,423.9 104.7,423.8 107.5,423.8L132.1,423.8C132.4,423.8 132.6,422.4 132.9,420.5C133.0,419.6 133.2,416.2 133.3,414.0C133.7,407.9 134.0,402.8 134.4,395.4C134.7,388.7 135.1,370.5 135.4,370.5C135.8,370.5 136.1,388.6 136.5,395.4C136.9,402.8 137.3,407.6 137.7,414.0C137.8,416.1 138.0,419.5 138.1,420.5C138.3,422.3 138.6,423.8 138.8,423.8L219.5,423.8L223.1,423.8C223.4,423.8 223.8,426.0 224.1,427.7C224.7,430.8 225.3,437.5 225.9,442.6C226.5,447.4 227.0,453.9 227.6,457.5C228.0,460.0 228.4,463.0 228.8,463.5C229.2,464.1 229.7,464.5 230.1,464.5C230.5,464.5 231.0,463.2 231.4,461.7C231.8,460.2 232.3,453.7 232.7,449.0C233.2,444.0 233.6,436.8 234.1,432.0C234.4,428.9 234.7,425.6 235.0,423.8C235.6,419.9 236.3,419.6 236.9,415.6C237.4,412.4 237.9,403.1 238.4,398.6C238.9,393.8 239.5,389.1 240.0,386.9C240.3,385.5 240.7,384.4 241.0,383.9C241.3,383.4 241.7,383.0 242.0,383.0C242.3,383.0 242.7,383.6 243.0,384.3C243.3,384.9 243.6,386.6 243.9,388.4C244.3,390.6 244.6,394.6 245.0,398.6C245.4,403.3 245.9,409.8 246.3,415.6C246.5,418.3 246.7,420.9 246.9,423.8C247.2,428.1 247.5,432.8 247.8,437.5C248.1,441.7 248.3,446.4 248.6,450.6C249.0,456.4 249.3,461.8 249.7,467.5C250.0,471.6 250.2,474.8 250.5,480.0C250.8,485.9 251.1,496.4 251.4,504.0C251.6,509.1 251.8,518.6 252.0,518.6C252.2,518.6 252.3,511.1 252.4,506.6C252.7,499.1 252.9,488.1 253.2,480.0C253.5,469.2 253.9,458.9 254.2,450.6C254.4,445.6 254.6,442.0 254.8,437.5C255.0,433.0 255.2,426.9 255.4,423.8C255.6,420.2 255.9,418.9 256.1,415.6C256.4,410.8 256.8,401.8 257.1,396.5C257.5,390.7 257.8,384.8 258.2,381.6C258.6,377.9 259.1,373.5 259.5,373.5C259.8,373.5 260.0,376.7 260.3,379.5C260.6,382.7 260.9,390.2 261.2,396.5C261.5,402.1 261.7,411.4 262.0,415.6C262.2,419.2 262.5,423.8 262.7,423.8L314.2,423.8C314.6,423.8 314.9,426.5 315.3,428.0C315.6,429.4 316.0,431.8 316.3,432.5C316.5,433.0 316.8,433.5 317.0,433.5C317.2,433.5 317.5,433.0 317.7,432.5C318.1,431.8 318.4,429.3 318.8,428.0C319.3,426.4 319.7,423.8 320.2,423.8L328.3,423.8C328.7,423.8 329.0,421.1 329.4,419.5C329.7,418.2 330.0,415.5 330.3,414.8C330.5,414.3 330.8,413.8 331.0,413.8C331.2,413.8 331.5,414.3 331.7,414.8C332.0,415.5 332.4,418.1 332.7,419.5C333.1,421.1 333.5,423.8 333.9,423.8L342.0,423.8C342.4,423.8 342.7,426.4 343.1,428.0C343.4,429.3 343.7,431.8 344.0,432.5C344.2,433.0 344.5,433.5 344.7,433.5C344.9,433.5 345.2,433.0 345.4,432.5C345.7,431.8 346.1,429.3 346.4,428.0C346.8,426.4 347.3,423.8 347.7,423.8L356.1,423.8C356.5,423.8 356.9,419.3 357.3,417.8C357.7,416.1 358.2,413.8 358.6,413.8C359.1,413.8 359.5,418.3 360.0,418.3C360.5,418.3 361.1,416.6 361.6,415.4C362.0,414.4 362.5,412.1 362.9,411.3C363.3,410.5 363.8,409.7 364.2,409.7C364.6,409.7 364.9,412.6 365.3,414.6C365.7,417.0 366.2,420.7 366.6,423.8C367.1,427.4 367.6,431.5 368.1,434.8C368.6,438.3 369.2,441.8 369.7,444.5C370.1,446.7 370.6,449.2 371.0,450.1C371.4,450.9 371.7,451.7 372.1,451.7C372.5,451.7 372.9,449.6 373.3,447.7C373.7,445.6 374.2,440.5 374.6,436.4C375.0,432.6 375.4,427.9 375.8,423.8C376.1,420.4 376.5,415.9 376.8,413.8C377.2,411.5 377.5,408.9 377.9,408.9C378.4,408.9 378.9,411.2 379.4,413.0C379.8,414.5 380.3,417.5 380.7,419.4C381.1,421.0 381.4,422.3 381.8,423.8C382.4,426.3 383.0,429.2 383.6,431.5C384.1,433.6 384.7,436.2 385.2,437.2C385.7,438.2 386.3,439.3 386.8,439.3C387.2,439.3 387.7,438.9 388.1,438.3C388.4,437.8 388.8,435.0 389.1,431.5C389.4,428.7 389.6,420.8 389.9,415.4C390.2,410.0 390.4,403.1 390.7,399.2C391.0,394.3 391.4,389.6 391.7,387.9C392.1,385.6 392.6,383.6 393.0,383.6C393.4,383.6 393.9,385.6 394.3,387.9C394.7,389.9 395.0,397.3 395.4,402.5C395.7,406.7 396.0,411.8 396.3,416.0C396.5,418.8 396.7,421.5 396.9,423.8C397.4,429.9 398.0,434.9 398.5,439.6C398.9,443.4 399.4,448.0 399.8,450.1C400.3,452.4 400.7,455.0 401.2,455.0C401.6,455.0 402.1,451.9 402.5,449.3C402.9,446.7 403.4,441.0 403.8,436.4C404.2,432.5 404.5,427.4 404.9,423.8C405.4,418.6 406.0,413.6 406.5,410.5C407.0,407.4 407.6,404.4 408.1,403.3C408.6,402.2 409.2,401.2 409.7,401.2C410.1,401.2 410.6,403.0 411.0,404.9C411.4,406.8 411.9,412.5 412.3,417.0C412.5,419.1 412.7,421.5 412.9,423.8C413.3,428.9 413.8,434.9 414.2,439.6C414.6,444.3 415.1,449.4 415.5,452.5C416.0,456.0 416.5,460.6 417.0,460.6C417.4,460.6 417.7,457.3 418.1,454.2C418.4,451.4 418.8,445.2 419.1,439.6C419.4,435.1 419.6,426.3 419.9,423.8C420.3,420.3 420.6,418.1 421.0,417.2C421.3,416.6 421.5,416.0 421.8,416.0L424.7,416.0C425.1,416.0 425.4,417.7 425.8,418.6C426.4,420.0 426.9,421.7 427.5,423.2C427.9,424.2 428.3,425.4 428.7,426.2C428.9,426.6 429.2,427.3 429.4,427.3C429.7,427.3 430.1,424.0 430.4,421.9C430.8,419.2 431.3,414.6 431.7,412.2C432.2,409.6 432.6,406.0 433.1,406.0C433.5,406.0 434.0,408.3 434.4,410.5C434.8,412.3 435.1,417.4 435.5,420.2C435.9,423.6 436.4,427.7 436.8,429.1C437.3,430.8 437.9,432.4 438.4,432.4C439.0,432.4 439.5,430.6 440.1,429.1C440.6,427.6 441.2,424.0 441.7,421.9C442.2,419.8 442.8,417.3 443.3,416.2C443.9,414.9 444.6,413.4 445.2,413.4C445.9,413.4 446.5,415.3 447.2,416.5C447.7,417.3 448.1,418.2 448.6,419.5C449.0,420.6 449.4,423.0 449.8,424.5C450.3,426.2 450.7,427.7 451.2,429.0C451.9,431.0 452.7,433.2 453.4,434.0C454.1,434.8 454.8,435.2 455.5,435.6C456.2,435.9 456.8,435.9 457.5,436.4C457.9,436.7 458.2,438.3 458.6,438.3C459.1,438.3 459.5,436.8 460.0,435.3C460.4,434.0 460.8,429.5 461.2,427.2C461.6,425.1 461.9,422.5 462.3,421.7C462.5,421.2 462.8,420.6 463.0,420.6C463.3,420.6 463.5,422.0 463.8,423.1C464.2,424.6 464.5,427.5 464.9,429.9C465.3,432.3 465.6,436.1 466.0,437.4C466.3,438.5 466.7,439.7 467.0,439.7C467.4,439.7 467.7,437.4 468.1,435.3C468.4,433.4 468.8,429.4 469.1,425.8C469.4,422.6 469.7,418.2 470.0,414.9C470.4,410.9 470.7,406.8 471.1,404.0C471.5,401.2 471.8,398.2 472.2,397.2C472.5,396.3 472.9,395.5 473.2,395.5C473.5,395.5 473.8,397.9 474.1,400.0C474.4,401.9 474.6,406.5 474.9,409.5C475.2,413.3 475.6,418.5 475.9,420.4C476.2,422.1 476.5,423.8 476.8,423.8L498.6,423.8C499.0,423.8 499.4,420.4 499.8,419.4C500.4,418.0 500.9,416.6 501.5,416.2C502.1,415.8 502.8,415.4 503.4,415.4C503.9,415.4 504.5,415.9 505.0,416.7C505.4,417.3 505.9,420.6 506.3,423.5C506.7,425.9 507.0,430.5 507.4,433.2C507.8,436.4 508.3,439.5 508.7,441.2C509.1,442.8 509.5,444.4 509.9,444.8C510.2,445.1 510.5,445.3 510.8,445.3C511.2,445.3 511.6,444.2 512.0,442.9C512.4,441.7 512.7,437.7 513.1,434.8C513.5,431.4 514.0,427.6 514.4,423.8C514.8,420.0 515.3,415.4 515.7,412.2C516.1,409.0 516.6,405.8 517.0,404.1C517.4,402.6 517.7,401.0 518.1,400.8C518.5,400.6 518.8,400.4 519.2,400.4C519.6,400.4 520.0,402.2 520.4,404.1C520.8,405.9 521.1,411.2 521.5,415.4C521.8,419.2 522.2,423.9 522.5,428.3C522.9,433.1 523.2,438.7 523.6,442.9C524.0,447.8 524.5,453.6 524.9,455.8C525.3,458.0 525.8,460.3 526.2,460.3C526.6,460.3 526.9,458.0 527.3,455.8C527.7,453.6 528.0,447.7 528.4,442.9C528.7,438.6 529.1,432.5 529.4,428.3C529.7,424.9 529.9,420.6 530.2,419.4C530.6,417.7 530.9,416.5 531.3,416.4C532.1,416.3 533.0,416.2 533.8,416.2L537.1,416.2C537.5,416.2 538.0,417.2 538.4,418.0C538.8,418.8 539.3,421.5 539.7,421.7C540.0,421.9 540.4,422.0 540.7,422.0C541.0,422.0 541.4,419.8 541.7,419.0C542.1,418.1 542.4,416.6 542.8,416.6C543.1,416.6 543.5,418.2 543.8,419.5C544.1,420.8 544.5,423.9 544.8,425.6C545.1,427.3 545.5,429.6 545.8,430.2C546.2,430.9 546.7,431.5 547.1,431.5C547.5,431.5 547.8,430.7 548.2,429.7C548.5,428.8 548.9,425.7 549.2,423.6C549.5,421.8 549.8,418.9 550.1,418.0C550.4,417.2 550.6,416.4 550.9,416.4C551.2,416.4 551.6,417.4 551.9,418.0C552.2,418.5 552.4,419.5 552.7,419.5C553.0,419.5 553.4,418.0 553.7,417.4C554.1,416.8 554.4,415.9 554.8,415.9C555.1,415.9 555.4,416.9 555.7,418.0C556.0,419.0 556.2,421.9 556.5,423.8C556.8,425.7 557.0,428.1 557.3,429.7C557.7,431.9 558.0,434.4 558.4,435.3C558.7,436.1 559.1,437.0 559.4,437.0C559.7,437.0 560.1,435.9 560.4,434.8C560.7,433.8 561.0,430.9 561.3,428.7C561.6,426.8 561.8,423.7 562.1,422.6C562.4,421.3 562.7,420.2 563.0,420.0C563.2,419.8 563.5,419.7 563.7,419.7C564.0,419.7 564.4,421.4 564.7,422.0C565.1,422.7 565.5,423.8 565.9,423.8L676.2,423.8" fill="none" stroke="#0000ff" stroke-width="1.7" stroke-linejoin="round"/>
<rect x="52.5" y="302.7" width="623.7" height="242.3" fill="none" stroke="#2b2b2b" stroke-width="1.35"/>
<path d="M52.5,545.0v-5.6M156.5,545.0v-5.6M260.4,545.0v-5.6M364.4,545.0v-5.6M468.3,545.0v-5.6M572.3,545.0v-5.6M676.2,545.0v-5.6M104.5,545.0v-3M208.4,545.0v-3M312.4,545.0v-3M416.3,545.0v-3M520.3,545.0v-3M624.2,545.0v-3M52.5,510.6h5.6M52.5,467.2h5.6M52.5,423.8h5.6M52.5,380.4h5.6M52.5,337.0h5.6M52.5,532.4h3M52.5,488.9h3M52.5,445.5h3M52.5,402.1h3M52.5,358.7h3M52.5,315.2h3" fill="none" stroke="#2b2b2b" stroke-width="1.35"/>
<text x="52.5" y="562.3" font-size="14.7" text-anchor="middle">0.0</text>
<text x="156.5" y="562.3" font-size="14.7" text-anchor="middle">0.1</text>
<text x="260.4" y="562.3" font-size="14.7" text-anchor="middle">0.2</text>
<text x="364.4" y="562.3" font-size="14.7" text-anchor="middle">0.3</text>
<text x="468.3" y="562.3" font-size="14.7" text-anchor="middle">0.4</text>
<text x="572.3" y="562.3" font-size="14.7" text-anchor="middle">0.5</text>
<text x="676.2" y="562.3" font-size="14.7" text-anchor="middle">0.6</text>
<text x="46.3" y="515.1" font-size="14.7" text-anchor="end">-2000</text>
<text x="46.3" y="471.7" font-size="14.7" text-anchor="end">-1000</text>
<text x="46.3" y="428.3" font-size="14.7" text-anchor="end">0</text>
<text x="46.3" y="384.9" font-size="14.7" text-anchor="end">1000</text>
<text x="46.3" y="341.5" font-size="14.7" text-anchor="end">2000</text>
<g transform="translate(11,450) rotate(-90)"><text x="0.00" y="0" font-size="16.5">Jerk (</text><text transform="translate(36.60,0) skewX(-12)" font-size="16.5">g</text><text x="45.80" y="0" font-size="16.5">/s)</text></g>
<text x="342.1" y="585.2" font-size="16.5">Time (s)</text>
<ellipse cx="251.7" cy="327.9" rx="4.15" ry="4.8" fill="none" stroke="#0000ff" stroke-width="1.3"/>
<ellipse cx="251.9" cy="518.8" rx="4.35" ry="4.9" fill="none" stroke="#ff00ff" stroke-width="1.3"/>
<path d="M276.9,319.2L263.4,324.0" stroke="#111" stroke-width="1.5" fill="none"/>
<path d="M255.9,326.7L262.6,321.8L264.2,326.2Z" fill="#111"/>
<path d="M279.7,525.2L263.6,522.9" stroke="#111" stroke-width="1.5" fill="none"/>
<path d="M255.7,521.7L264.0,520.5L263.3,525.2Z" fill="#111"/>
<g transform="translate(91.9,328.7)"><text x="0.00" y="0" font-size="16">2039 </text><text transform="translate(35.50,0) skewX(-12)" font-size="16">g</text><text x="44.40" y="0" font-size="16">/s</text></g>
<g transform="translate(280.2,324.8)"><text x="0.00" y="0" font-size="16">2190 </text><text transform="translate(35.50,0) skewX(-12)" font-size="16">g</text><text x="44.40" y="0" font-size="16">/s</text></g>
<g transform="translate(91.9,528.9)"><text x="0" y="1.4" font-size="16" style="stroke:none;fill:#444">−</text><text x="9.02" y="0" font-size="16">2039 </text><text transform="translate(44.50,0) skewX(-12)" font-size="16">g</text><text x="53.40" y="0" font-size="16">/s</text></g>
<g transform="translate(281.4,529.4)"><text x="0" y="1.4" font-size="16" style="stroke:none;fill:#444">−</text><text x="9.02" y="0" font-size="16">2190 </text><text transform="translate(44.50,0) skewX(-12)" font-size="16">g</text><text x="53.40" y="0" font-size="16">/s</text></g>
<rect x="609.3" y="349.3" width="61.3" height="39.2" fill="#fff" stroke="#333" stroke-width="0.9"/>
<path d="M611.1,359.7H645" stroke="#ff00ff" stroke-width="1.7"/>
<path d="M611.1,378.5H645" stroke="#0000ff" stroke-width="1.7"/>
<text x="648.9" y="364.8" font-size="14">M1</text>
<text x="648.9" y="383" font-size="14">S1</text>
</g>
</svg></body></html>
